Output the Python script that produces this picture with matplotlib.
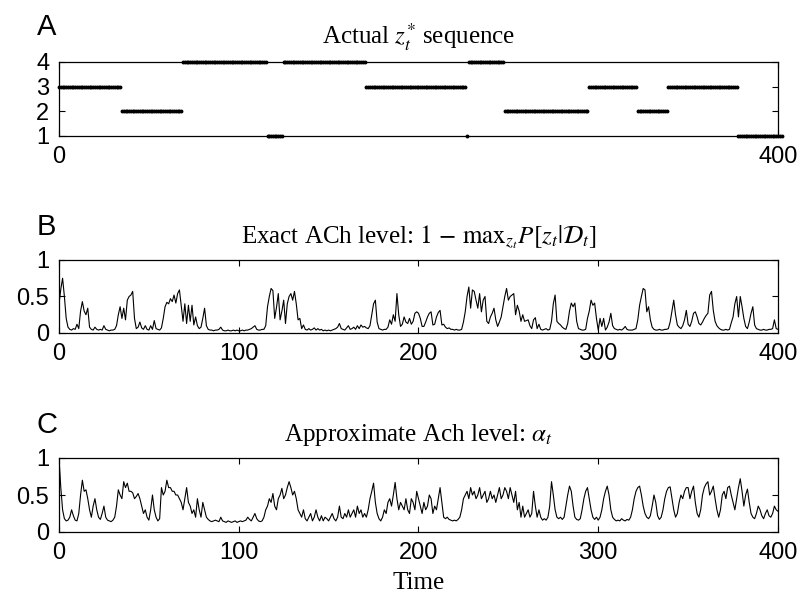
import numpy as np
import matplotlib
matplotlib.use("Agg")
import matplotlib.pyplot as plt

plt.rcParams['font.family'] = ['Liberation Sans', 'DejaVu Sans']
plt.rcParams['mathtext.fontset'] = 'stix'

# ---- Panel A: actual z* sequence (levels and their durations) ----
z_levels = [3, 2, 4, 1, 4, 3, 1, 4, 2, 3, 2, 3, 1]
z_durations = [35, 34, 47, 9, 46, 56, 1, 20, 47, 27, 17, 39, 24]

# ---- Panel B: exact ACh level, t = 0..400 ----
ach_exact = [
    0.40, 0.60, 0.75, 0.50, 0.20, 0.08, 0.05, 0.04, 0.06, 0.05, 0.12, 0.06, 0.30, 0.43, 0.30, 0.25, 0.34, 0.08, 0.05, 0.04,
    0.08, 0.05, 0.04, 0.05, 0.04, 0.10, 0.05, 0.04, 0.03, 0.04, 0.04, 0.05, 0.10, 0.25, 0.36, 0.20, 0.34, 0.18, 0.45, 0.50,
    0.52, 0.57, 0.20, 0.06, 0.08, 0.15, 0.07, 0.05, 0.10, 0.05, 0.04, 0.10, 0.05, 0.17, 0.06, 0.05, 0.04, 0.07, 0.20, 0.36,
    0.42, 0.40, 0.47, 0.43, 0.52, 0.41, 0.54, 0.59, 0.38, 0.16, 0.40, 0.13, 0.38, 0.16, 0.38, 0.11, 0.22, 0.10, 0.06, 0.08,
    0.20, 0.34, 0.10, 0.05, 0.04, 0.04, 0.03, 0.04, 0.04, 0.05, 0.08, 0.04, 0.03, 0.03, 0.04, 0.03, 0.03, 0.04, 0.03, 0.04,
    0.03, 0.03, 0.04, 0.03, 0.04, 0.04, 0.05, 0.06, 0.08, 0.10, 0.05, 0.04, 0.04, 0.05, 0.05, 0.10, 0.36, 0.50, 0.61, 0.58,
    0.20, 0.35, 0.54, 0.18, 0.30, 0.45, 0.13, 0.40, 0.50, 0.54, 0.45, 0.57, 0.40, 0.18, 0.20, 0.06, 0.11, 0.05, 0.04, 0.06,
    0.04, 0.05, 0.07, 0.04, 0.06, 0.04, 0.05, 0.03, 0.04, 0.03, 0.04, 0.03, 0.04, 0.05, 0.06, 0.08, 0.13, 0.06, 0.05, 0.04,
    0.07, 0.10, 0.05, 0.06, 0.08, 0.05, 0.10, 0.06, 0.11, 0.08, 0.09, 0.07, 0.06, 0.10, 0.25, 0.40, 0.45, 0.15, 0.06, 0.05,
    0.04, 0.05, 0.05, 0.08, 0.18, 0.12, 0.25, 0.16, 0.54, 0.25, 0.09, 0.12, 0.22, 0.15, 0.13, 0.20, 0.12, 0.16, 0.27, 0.29,
    0.27, 0.20, 0.09, 0.09, 0.15, 0.22, 0.27, 0.29, 0.11, 0.12, 0.22, 0.28, 0.31, 0.11, 0.12, 0.08, 0.06, 0.07, 0.05, 0.05,
    0.04, 0.05, 0.04, 0.04, 0.05, 0.15, 0.29, 0.50, 0.63, 0.34, 0.59, 0.57, 0.45, 0.34, 0.54, 0.29, 0.45, 0.50, 0.16, 0.13,
    0.22, 0.27, 0.34, 0.18, 0.09, 0.15, 0.22, 0.36, 0.50, 0.61, 0.45, 0.50, 0.52, 0.54, 0.25, 0.38, 0.30, 0.16, 0.25, 0.16,
    0.17, 0.18, 0.10, 0.06, 0.18, 0.21, 0.06, 0.12, 0.05, 0.04, 0.05, 0.06, 0.04, 0.05, 0.16, 0.40, 0.52, 0.16, 0.13, 0.11,
    0.08, 0.06, 0.05, 0.13, 0.30, 0.41, 0.36, 0.41, 0.16, 0.06, 0.05, 0.04, 0.04, 0.05, 0.20, 0.30, 0.45, 0.38, 0.41, 0.20,
    0.04, 0.20, 0.09, 0.20, 0.04, 0.08, 0.15, 0.27, 0.10, 0.06, 0.05, 0.04, 0.05, 0.04, 0.06, 0.09, 0.05, 0.04, 0.04, 0.04,
    0.05, 0.06, 0.18, 0.38, 0.50, 0.61, 0.59, 0.29, 0.36, 0.18, 0.08, 0.05, 0.04, 0.04, 0.05, 0.04, 0.04, 0.05, 0.05, 0.06,
    0.15, 0.30, 0.45, 0.25, 0.11, 0.08, 0.06, 0.10, 0.18, 0.31, 0.12, 0.09, 0.16, 0.27, 0.29, 0.22, 0.13, 0.11, 0.15, 0.20,
    0.24, 0.27, 0.52, 0.57, 0.31, 0.16, 0.10, 0.07, 0.05, 0.04, 0.04, 0.05, 0.04, 0.05, 0.14, 0.22, 0.40, 0.50, 0.22, 0.50,
    0.36, 0.20, 0.09, 0.06, 0.15, 0.27, 0.36, 0.11, 0.06, 0.05, 0.04, 0.04, 0.05, 0.04, 0.04, 0.05, 0.05, 0.06, 0.18, 0.06,
    0.05,
]

# ---- Panel C: approximate ACh level alpha_t, t = 0..400 ----
ach_approx = [
    1.00, 0.60, 0.30, 0.18, 0.15, 0.16, 0.20, 0.30, 0.22, 0.16, 0.15, 0.25, 0.50, 0.70, 0.55, 0.57, 0.45, 0.30, 0.20, 0.35,
    0.45, 0.30, 0.20, 0.17, 0.25, 0.35, 0.20, 0.16, 0.15, 0.14, 0.16, 0.20, 0.35, 0.57, 0.50, 0.45, 0.68, 0.60, 0.66, 0.55,
    0.55, 0.53, 0.45, 0.48, 0.52, 0.45, 0.35, 0.25, 0.30, 0.20, 0.16, 0.30, 0.50, 0.30, 0.20, 0.15, 0.18, 0.60, 0.50, 0.55,
    0.70, 0.60, 0.60, 0.55, 0.55, 0.50, 0.50, 0.45, 0.40, 0.30, 0.45, 0.60, 0.40, 0.35, 0.25, 0.30, 0.20, 0.45, 0.30, 0.20,
    0.40, 0.30, 0.20, 0.17, 0.15, 0.14, 0.15, 0.16, 0.15, 0.14, 0.20, 0.15, 0.14, 0.13, 0.15, 0.14, 0.13, 0.14, 0.15, 0.13,
    0.14, 0.15, 0.14, 0.15, 0.16, 0.20, 0.17, 0.15, 0.20, 0.25, 0.18, 0.15, 0.14, 0.15, 0.20, 0.30, 0.35, 0.45, 0.40, 0.52,
    0.35, 0.30, 0.45, 0.50, 0.59, 0.45, 0.50, 0.60, 0.68, 0.60, 0.50, 0.55, 0.45, 0.30, 0.25, 0.20, 0.30, 0.18, 0.15, 0.20,
    0.25, 0.15, 0.20, 0.30, 0.20, 0.15, 0.22, 0.15, 0.20, 0.18, 0.15, 0.20, 0.25, 0.18, 0.15, 0.20, 0.35, 0.20, 0.18, 0.25,
    0.20, 0.30, 0.20, 0.25, 0.30, 0.20, 0.35, 0.25, 0.30, 0.20, 0.25, 0.20, 0.30, 0.45, 0.55, 0.66, 0.40, 0.25, 0.18, 0.15,
    0.20, 0.30, 0.25, 0.40, 0.45, 0.35, 0.50, 0.67, 0.45, 0.30, 0.40, 0.35, 0.30, 0.45, 0.30, 0.25, 0.45, 0.40, 0.30, 0.55,
    0.45, 0.35, 0.25, 0.40, 0.30, 0.35, 0.50, 0.45, 0.25, 0.35, 0.30, 0.45, 0.60, 0.40, 0.20, 0.18, 0.20, 0.17, 0.16, 0.15,
    0.16, 0.15, 0.17, 0.20, 0.30, 0.45, 0.50, 0.55, 0.45, 0.60, 0.50, 0.55, 0.45, 0.50, 0.60, 0.45, 0.50, 0.55, 0.40, 0.45,
    0.55, 0.45, 0.50, 0.40, 0.50, 0.60, 0.45, 0.50, 0.60, 0.55, 0.45, 0.60, 0.50, 0.40, 0.55, 0.30, 0.40, 0.20, 0.35, 0.20,
    0.25, 0.30, 0.20, 0.25, 0.55, 0.35, 0.20, 0.30, 0.20, 0.16, 0.18, 0.16, 0.20, 0.35, 0.68, 0.50, 0.30, 0.20, 0.18, 0.20,
    0.17, 0.20, 0.35, 0.50, 0.62, 0.55, 0.35, 0.20, 0.17, 0.16, 0.18, 0.30, 0.45, 0.55, 0.60, 0.45, 0.30, 0.20, 0.17, 0.20,
    0.16, 0.20, 0.30, 0.45, 0.55, 0.62, 0.50, 0.30, 0.20, 0.17, 0.15, 0.16, 0.15, 0.18, 0.16, 0.15, 0.17, 0.16, 0.20, 0.30,
    0.45, 0.55, 0.60, 0.62, 0.50, 0.35, 0.25, 0.20, 0.18, 0.22, 0.35, 0.50, 0.40, 0.22, 0.17, 0.20, 0.30, 0.45, 0.55, 0.60,
    0.61, 0.45, 0.30, 0.20, 0.25, 0.40, 0.50, 0.45, 0.55, 0.60, 0.60, 0.45, 0.55, 0.62, 0.40, 0.25, 0.20, 0.30, 0.50, 0.60,
    0.65, 0.68, 0.50, 0.55, 0.62, 0.45, 0.30, 0.20, 0.30, 0.50, 0.55, 0.45, 0.60, 0.62, 0.50, 0.40, 0.30, 0.45, 0.60, 0.72,
    0.55, 0.35, 0.50, 0.58, 0.40, 0.25, 0.20, 0.18, 0.25, 0.35, 0.30, 0.22, 0.18, 0.25, 0.30, 0.22, 0.20, 0.25, 0.35, 0.30,
    0.28,
]

x_ticks_full = [0, 100, 200, 300, 400]
x_ticks_a = [0, 400]
y_ticks_a = [1, 2, 3, 4]
y_ticks_bc = [0, 0.5, 1]
y_ticklabels_bc = ['0', '0.5', '1']

title_a = r'Actual $z_t^{*}$ sequence'
title_b = r'Exact ACh level: $1\,-\,\mathrm{max}_{z_t} P[z_t|\mathcal{D}_t]$'
title_c = r'Approximate Ach level: $\alpha_t$'

W, H = 804, 601
fig = plt.figure(figsize=(W / 100, H / 100), dpi=100)


def make_axes(top_px, bot_px):
    left, right = 59, 778
    return fig.add_axes([left / W, 1 - bot_px / H, (right - left) / W, (bot_px - top_px) / H])


def style(ax):
    ax.tick_params(direction='in', top=True, right=True, length=4, width=0.8,
                   labelsize=17, pad=7)
    for s in ax.spines.values():
        s.set_linewidth(0.9)


serif = ['Liberation Serif', 'DejaVu Serif']
tfs = 18

# Panel A
axA = make_axes(62, 136)
z_seq = np.repeat(z_levels, z_durations)
z_seq = np.append(z_seq, z_seq[-1])
axA.plot(np.arange(len(z_seq)), z_seq, '.', color='black', ms=3.6, clip_on=False)
axA.set_xlim(0, 400)
axA.set_ylim(1, 4)
axA.set_xticks(x_ticks_a)
axA.set_yticks(y_ticks_a)
style(axA)
axA.set_title(title_a, fontsize=tfs, family=serif, pad=13)

# Panel B
axB = make_axes(260, 333)
tB = np.arange(len(ach_exact))
axB.plot(tB, ach_exact, color='black', lw=0.8)
axB.set_xlim(0, 400)
axB.set_ylim(0, 1)
axB.set_xticks(x_ticks_full)
axB.set_yticks(y_ticks_bc)
axB.set_yticklabels(y_ticklabels_bc)
style(axB)
axB.set_title(title_b, fontsize=tfs, family=serif, pad=12)

# Panel C
axC = make_axes(458, 532)
tC = np.arange(len(ach_approx))
axC.plot(tC, ach_approx, color='black', lw=0.8)
axC.set_xlim(0, 400)
axC.set_ylim(0, 1)
axC.set_xticks(x_ticks_full)
axC.set_yticks(y_ticks_bc)
axC.set_yticklabels(y_ticklabels_bc)
style(axC)
axC.set_title(title_c, fontsize=tfs, family=serif, pad=12)
axC.set_xlabel('Time', fontsize=tfs, family=serif, labelpad=6)

for lab, ybase in (('A', 35), ('B', 235), ('C', 433)):
    fig.text(37 / W, 1 - ybase / H, lab, fontsize=21, ha='left', va='baseline')

fig.savefig('out.png', dpi=100)
